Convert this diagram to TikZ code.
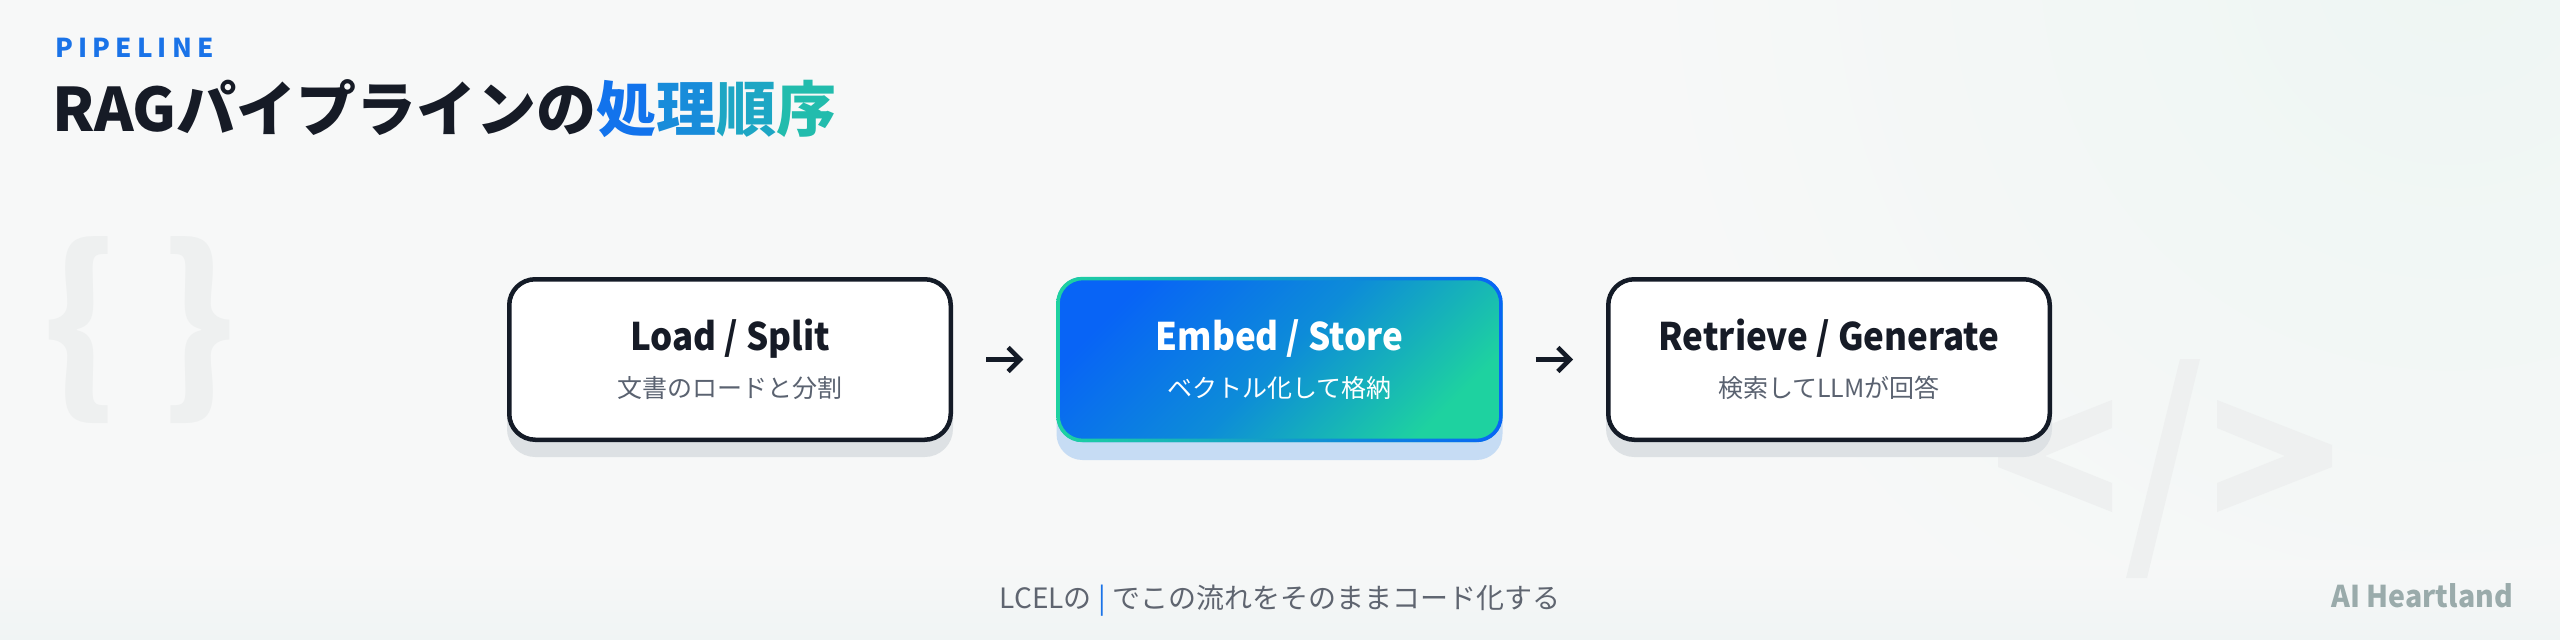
\documentclass[tikz,border=0pt]{standalone}
\usepackage{fontspec}
\setmainfont{Noto Sans CJK JP}
\usetikzlibrary{arrows.meta}
\definecolor{bgc}{HTML}{F7F8F8}
\definecolor{glow}{HTML}{EEF6F3}
\definecolor{band}{HTML}{F0F4F4}
\definecolor{dark}{HTML}{141B27}
\definecolor{ink}{HTML}{161B26}
\definecolor{subg}{HTML}{5A6270}
\definecolor{accent}{HTML}{1A73E8}
\definecolor{brandc}{HTML}{9AABAB}
\definecolor{footc}{HTML}{5F6570}
\definecolor{decoc}{HTML}{EEF0F0}
\definecolor{cardshadow}{HTML}{DDE1E4}
\definecolor{blueshadow}{HTML}{C6DCF4}
\definecolor{gblue}{HTML}{0864F6}
\definecolor{gmid}{HTML}{0D8CD8}
\definecolor{ggreen}{HTML}{1ED2A0}
\definecolor{ga}{HTML}{1273EC}
\definecolor{gb}{HTML}{188CDA}
\definecolor{gc}{HTML}{1DA6C4}
\definecolor{gd}{HTML}{22BCAD}
\begin{document}
\begin{tikzpicture}[x=1pt,y=-1pt,
  card/.style={draw=dark, line width=4.5pt, fill=white, rounded corners=26pt,
    minimum width=441.5pt, minimum height=160.5pt, inner sep=0pt,
    preaction={draw=cardshadow, fill=cardshadow, transform canvas={yshift=-15pt}}},
  gcard/.style={rounded corners=26pt, minimum width=446pt, minimum height=165pt, inner sep=0pt,
    top color=gblue, bottom color=ggreen, middle color=gmid, shading angle=45,
    preaction={fill=blueshadow, transform canvas={yshift=-18pt}}},
  ctitle/.style={anchor=base, inner sep=0pt, font=\fontsize{38}{38}\selectfont\bfseries\addfontfeature{FakeStretch=0.92}},
  csub/.style={anchor=base, inner sep=0pt, font=\fontsize{25}{25}\selectfont},
  deco/.style={fill=decoc},
  arr/.style={draw=dark, line width=4.5pt, -{Straight Barb[length=12pt,width=24pt]}, shorten <=33pt, shorten >=33pt}
]
\useasboundingbox (0,0) rectangle (2560,640);
% background
\fill[bgc] (0,0) rectangle (2560,640);
\begin{scope}
\clip (0,0) rectangle (2560,640);
\shade[inner color=glow, outer color=bgc] (2450,-40) circle (820);
\shade[top color=bgc, bottom color=band] (0,560) rectangle (2560,640);
\end{scope}
% decorations
\node[inner sep=0pt, text=decoc, font=\fontsize{190}{190}\selectfont\bfseries] (lbrace) at (80,330) {\{};
\node[inner sep=0pt, text=decoc, font=\fontsize{190}{190}\selectfont\bfseries] (rbrace) at (198,330) {\}};
\fill[deco] (2112,400) -- (1998,445) -- (1998,467) -- (2112,512) -- (2112,483) -- (2045,456) -- (2112,428) -- cycle;
\fill[deco] (2180,359) -- (2200,359) -- (2147,578) -- (2126,578) -- cycle;
\fill[deco] (2217,400) -- (2332,445) -- (2332,467) -- (2217,512) -- (2217,483) -- (2285,456) -- (2217,428) -- cycle;
% heading
\node[anchor=base west, inner sep=0pt, text=accent] (kicker) at (55,57)
  {\fontsize{26}{26}\selectfont\bfseries\addfontfeature{LetterSpace=20}PIPELINE};
\node[anchor=base west, inner sep=0pt, text=ink] (title) at (52,131)
  {\fontsize{60}{60}\selectfont\bfseries RAGパイプラインの\textcolor{ga}{処}\textcolor{gb}{理}\textcolor{gc}{順}\textcolor{gd}{序}};
% cards
\node[card] (b1) at (730,359.5) {};
\node[gcard] (b2) at (1279.5,359.5) {};
\shade[even odd rule, left color=ggreen, right color=gblue]
  [rounded corners=26pt] (b2.north west) rectangle (b2.south east)
  [rounded corners=23pt] ([shift={(3.5,3.5)}]b2.north west) rectangle ([shift={(-3.5,-3.5)}]b2.south east);
\node[card] (b3) at (1829,359.5) {};
\node[ctitle, text=ink] (b1t) at (730,350) {Load / Split};
\node[csub, text=subg] (b1s) at (730,397) {文書のロードと分割};
\node[ctitle, text=white] (b2t) at (1279.5,350) {Embed / Store};
\node[csub, text=white] (b2s) at (1279.5,397) {ベクトル化して格納};
\node[ctitle, text=ink] (b3t) at (1829,350) {Retrieve / Generate};
\node[csub, text=subg] (b3s) at (1829,397) {検索してLLMが回答};
% connectors
\draw[arr] (b1.east) -- (b2.west);
\draw[arr] (b2.east) -- (b3.west);
% footer
\node[anchor=base, inner sep=0pt, text=footc] (foot) at (1280,608)
  {\fontsize{28}{28}\selectfont LCELの {\color{accent}|} でこの流れをそのままコード化する};
\node[anchor=base east, inner sep=0pt, text=brandc] (brand) at (2513,607)
  {\fontsize{30}{30}\selectfont\bfseries\addfontfeature{FakeStretch=0.95}AI Heartland};
\end{tikzpicture}
\end{document}
